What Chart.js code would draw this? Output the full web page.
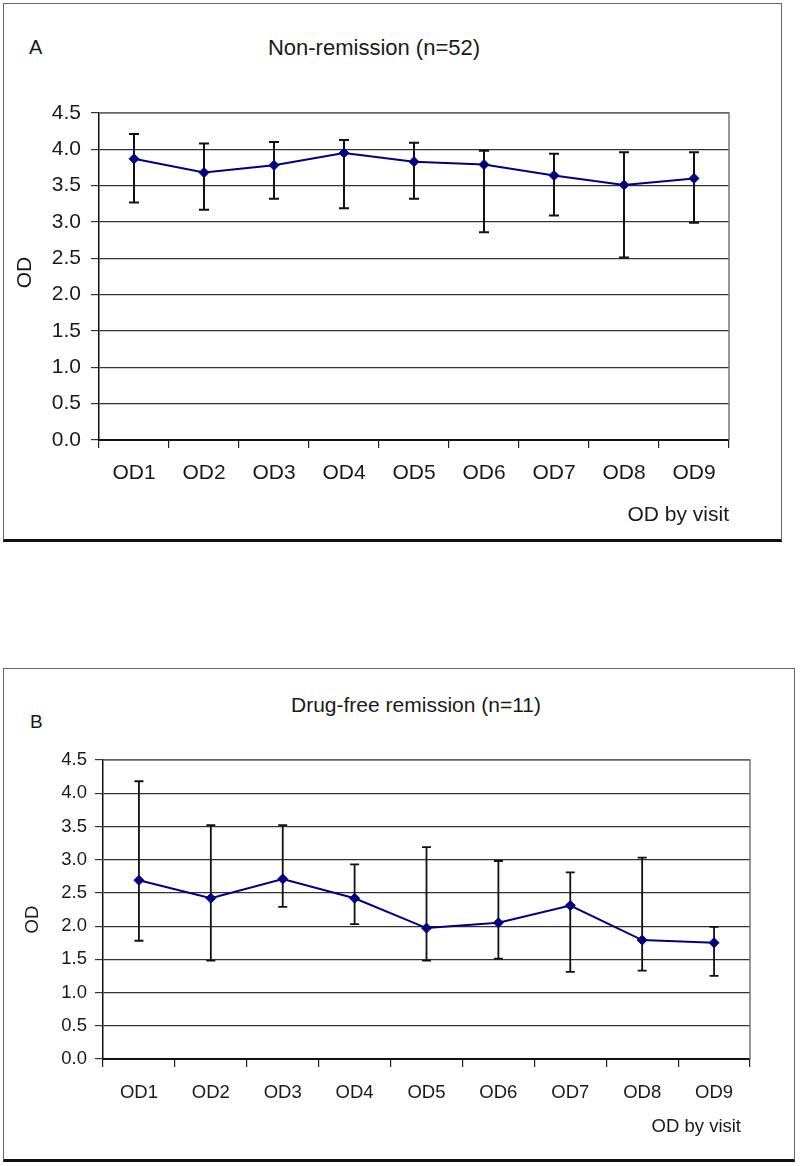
<!DOCTYPE html>
<html><head><meta charset="utf-8">
<script src="https://cdn.jsdelivr.net/npm/chart.js@4.4.0/dist/chart.umd.min.js"></script>
<style>
html,body{margin:0;padding:0;background:#fff;}
body{width:800px;height:1166px;position:relative;overflow:hidden;font-family:"Liberation Sans",Arial,sans-serif;color:#1a1a1a;}
.frame{position:absolute;border:1px solid #666;border-bottom:3px solid #111;box-sizing:border-box;}
.lbl{position:absolute;white-space:nowrap;line-height:24px;}
.ctr{transform:translateX(-50%);}
canvas{position:absolute;}
</style></head><body>
<div class="frame" style="left:3px;top:3px;width:779px;height:539px"></div>
<div class="frame" style="left:3px;top:668px;width:792px;height:494px"></div>
<div class="lbl" style="left:29px;top:35px;font-size:20px">A</div>
<div class="lbl ctr" style="left:374px;top:36px;font-size:22px">Non-remission (n=52)</div>
<div class="lbl" style="left:30px;top:710px;font-size:19px">B</div>
<div class="lbl ctr" style="left:416px;top:693px;font-size:21px">Drug-free remission (n=11)</div>
<canvas id="ca" style="left:4px;top:4px;width:777px;height:536px" width="777" height="536"></canvas>
<canvas id="cb" style="left:4px;top:669px;width:790px;height:490px" width="790" height="490"></canvas>
<script>
const categories = ['OD1','OD2','OD3','OD4','OD5','OD6','OD7','OD8','OD9'];
const yTickValues = [0,0.5,1,1.5,2,2.5,3,3.5,4,4.5];

const nonRemissionMean  = [3.87,3.68,3.78,3.95,3.83,3.79,3.64,3.51,3.60];
const nonRemissionUpper = [4.21,4.08,4.10,4.13,4.09,3.98,3.94,3.96,3.96];
const nonRemissionLower = [3.27,3.17,3.32,3.19,3.32,2.86,3.09,2.51,2.99];

const drugFreeMean  = [2.69,2.42,2.71,2.42,1.97,2.05,2.31,1.79,1.75];
const drugFreeUpper = [4.18,3.52,3.52,2.93,3.19,2.98,2.81,3.03,1.99];
const drugFreeLower = [1.78,1.48,2.29,2.03,1.48,1.51,1.31,1.33,1.25];

const FONT = '"Liberation Sans", Arial, sans-serif';

const errorBars = {
  id:'errorBars',
  beforeDatasetsDraw(chart, args, o){
    const meta = chart.getDatasetMeta(0);
    const ys = chart.scales.y;
    const ctx = chart.ctx;
    ctx.save();
    ctx.strokeStyle = '#111';
    ctx.lineWidth = o.lw;
    meta.data.forEach((pt,i)=>{
      const x = pt.x;
      const yt = ys.getPixelForValue(o.upper[i]);
      const yb = ys.getPixelForValue(o.lower[i]);
      ctx.beginPath();
      ctx.moveTo(x,yt); ctx.lineTo(x,yb);
      ctx.moveTo(x-o.cap,yt); ctx.lineTo(x+o.cap,yt);
      ctx.moveTo(x-o.cap,yb); ctx.lineTo(x+o.cap,yb);
      ctx.stroke();
    });
    ctx.restore();
  }
};
const plotBorder = {
  id:'plotBorder',
  beforeDatasetsDraw(chart){
    const {ctx, chartArea:a} = chart;
    ctx.save();
    ctx.strokeStyle = '#777';
    ctx.lineWidth = 1.5;
    ctx.beginPath();
    ctx.moveTo(a.left, a.top); ctx.lineTo(a.right, a.top); ctx.lineTo(a.right, a.bottom);
    ctx.stroke();
    ctx.restore();
  }
};
const axisTitles = {
  id:'axisTitles',
  afterDraw(chart, args, o){
    const {ctx, chartArea:a} = chart;
    ctx.save();
    ctx.fillStyle = '#1a1a1a';
    ctx.font = o.size + 'px ' + FONT;
    ctx.textBaseline = 'middle';
    ctx.textAlign = 'right';
    ctx.fillText(o.xText, a.right - o.xRight, a.bottom + o.xDy);
    ctx.translate(o.yX, (a.top + a.bottom)/2 + o.yDy);
    ctx.rotate(-Math.PI/2);
    ctx.textAlign = 'center';
    ctx.fillText(o.yText, 0, 0);
    ctx.restore();
  }
};

function makeChart(id, mean, upper, lower, cfg){
  return new Chart(document.getElementById(id), {
    type:'line',
    data:{labels:categories, datasets:[{
      data:mean, borderColor:'#000080', borderWidth:2, tension:0,
      pointStyle:'rectRot', pointRadius:cfg.pr, pointBackgroundColor:'#000080', pointBorderColor:'#000080', pointBorderWidth:1
    }]},
    plugins:[errorBars, plotBorder, axisTitles],
    options:{
      responsive:false, animation:false, devicePixelRatio:1,
      layout:{padding:{left:0, top:cfg.top, right:cfg.right, bottom:0}},
      plugins:{legend:{display:false}, title:{display:false}, tooltip:{enabled:false},
        errorBars:{upper:upper, lower:lower, lw:cfg.elw, cap:cfg.cap},
        axisTitles:{xText:'OD by visit', yText:'OD', size:cfg.fs, xRight:cfg.xRight, xDy:cfg.xDy, yX:cfg.yX, yDy:cfg.yDy}},
      scales:{
        x:{type:'category', offset:true,
          grid:{offset:true, drawOnChartArea:false, drawTicks:true, tickLength:8, color:'#222', lineWidth:1.2},
          border:{display:true, color:'#111', width:2},
          ticks:{padding:cfg.xpad, color:'#1a1a1a', font:{family:FONT, size:cfg.fs}, maxRotation:0, autoSkip:false},
          afterFit(s){ s.height = cfg.xh; }
        },
        y:{min:0, max:4.5,
          afterBuildTicks(s){ s.ticks = yTickValues.map(v=>({value:v})); },
          grid:{color:'#333', lineWidth:1.2, tickLength:8, drawTicks:true},
          border:{display:true, color:'#111', width:1.5},
          ticks:{padding:cfg.ypad, color:'#1a1a1a', font:{family:FONT, size:cfg.fs}, callback:v=>Number(v).toFixed(1)},
          afterFit(s){ s.width = cfg.yw; }
        }
      }
    }
  });
}

makeChart('ca', nonRemissionMean, nonRemissionUpper, nonRemissionLower,
  {top:109, right:52, yw:95, xh:100, fs:21, xpad:13, ypad:10, xRight:0, xDy:75, yX:21, yDy:-4, pr:5, elw:2, cap:5});
makeChart('cb', drugFreeMean, drugFreeUpper, drugFreeLower,
  {top:91, right:44, yw:99, xh:100, fs:18.5, xpad:15, ypad:8, xRight:9, xDy:68, yX:29, yDy:10, pr:5, elw:1.8, cap:4.5});
</script>
</body></html>
